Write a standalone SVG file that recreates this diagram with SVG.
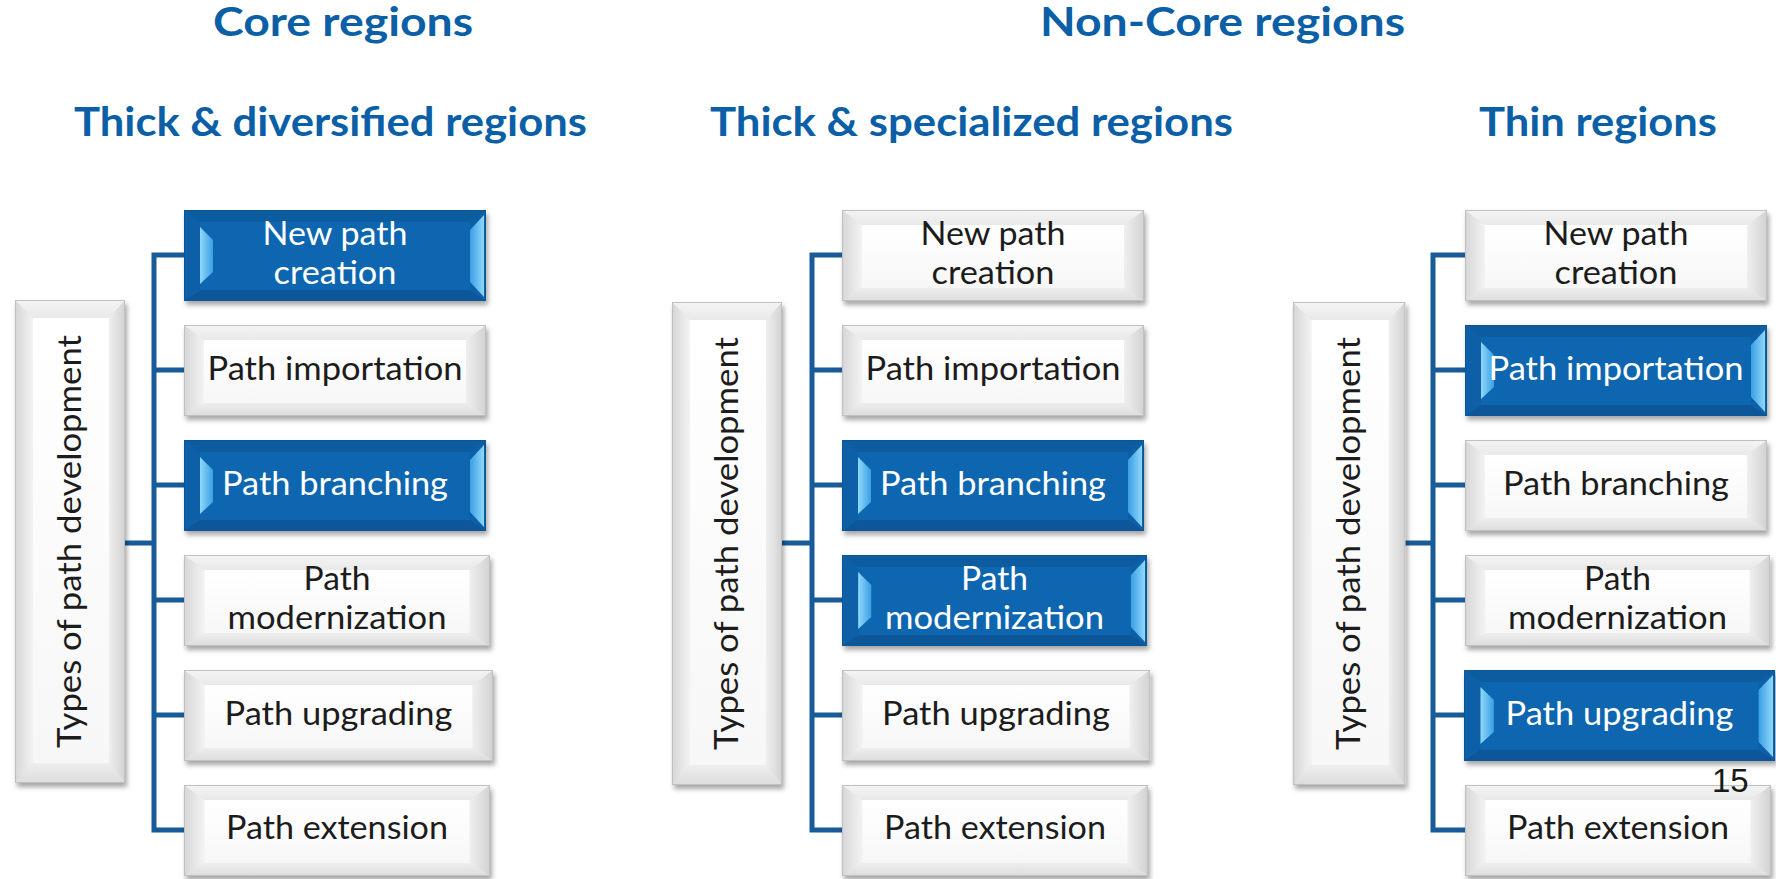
<svg xmlns="http://www.w3.org/2000/svg" xmlns:xlink="http://www.w3.org/1999/xlink" width="1776" height="879" viewBox="0 0 1776 879">
<defs>
<style>
.title{font-family:Lato,"Open Sans","Liberation Sans",sans-serif;font-weight:bold;font-size:40px;fill:#0b5fa6;text-anchor:middle}
.lbl{font-family:Lato,"Open Sans","Liberation Sans",sans-serif;font-size:32px;text-anchor:middle}
.dark{fill:#1c1c1c}
.light{fill:#ffffff}
.vt{font-family:Lato,"Open Sans","Liberation Sans",sans-serif;font-size:33px;fill:#1c1c1c;text-anchor:middle}
.conn{fill:none;stroke:#185b99;stroke-width:5;stroke-linejoin:miter;stroke-linecap:butt}
.num{font-family:"Liberation Sans",Arial,sans-serif;font-size:33px;fill:#1a1a1a}
</style>
<filter id="sh" x="-10%" y="-10%" width="125%" height="130%">
<feDropShadow dx="2" dy="4" stdDeviation="2.5" flood-color="#000" flood-opacity="0.35"/>
</filter>
<linearGradient id="gL" x1="0" y1="0" x2="1" y2="0"><stop offset="0" stop-color="#d6d6d6"/><stop offset="1" stop-color="#f3f3f3"/></linearGradient>
<linearGradient id="gR" x1="0" y1="0" x2="1" y2="0"><stop offset="0" stop-color="#efefef"/><stop offset="1" stop-color="#d2d2d2"/></linearGradient>
<linearGradient id="gT" x1="0" y1="0" x2="0" y2="1"><stop offset="0" stop-color="#f4f4f4"/><stop offset="1" stop-color="#e9e9e9"/></linearGradient>
<linearGradient id="gB" x1="0" y1="0" x2="0" y2="1"><stop offset="0" stop-color="#eeeeee"/><stop offset="1" stop-color="#dcdcdc"/></linearGradient>
<linearGradient id="gF" x1="0" y1="0" x2="0" y2="1"><stop offset="0" stop-color="#ffffff"/><stop offset="1" stop-color="#f7f7f7"/></linearGradient>
<linearGradient id="gCL" x1="0" y1="0" x2="1" y2="0"><stop offset="0" stop-color="#8fd8fb"/><stop offset="1" stop-color="#3b9fe3"/></linearGradient>
<linearGradient id="gCR" x1="0" y1="0" x2="1" y2="0"><stop offset="0" stop-color="#3b9fe3"/><stop offset="1" stop-color="#8fd8fb"/></linearGradient>
<g id="wbox">
<rect x="0" y="0" width="302" height="91" fill="#e4e4e4"/>
<polygon points="0,0 20,15 20,78 0,91" fill="url(#gL)"/>
<polygon points="302,0 282,15 282,78 302,91" fill="url(#gR)"/>
<polygon points="0,0 302,0 282,15 20,15" fill="url(#gT)"/>
<polygon points="0,91 302,91 282,78 20,78" fill="url(#gB)"/>
<rect x="20" y="15" width="262" height="63" fill="url(#gF)"/>
<rect x="0.5" y="0.5" width="301" height="90" fill="none" stroke="#c0c0c0" stroke-width="1"/>
</g>
<g id="bbox">
<rect x="0" y="0" width="302" height="91" fill="#0a60a7"/>
<polygon points="0,0 302,0 286,12 16,12" fill="#0c5c9f"/>
<polygon points="0,91 302,91 286,80 16,80" fill="#09579a"/>
<rect x="16" y="12" width="270" height="68" fill="#0766af"/>
<polygon points="16,17 29,30 29,62 16,74" fill="url(#gCL)"/>
<polygon points="300,5 286,20 286,72 300,87" fill="url(#gCR)"/>
<rect x="0.5" y="0.5" width="301" height="90" fill="none" stroke="#0b5794" stroke-width="1"/>
</g>
<g id="vbox">
<rect x="0" y="0" width="110" height="483" fill="#e4e4e4"/>
<polygon points="0,0 18,18 18,463 0,483" fill="url(#gL)"/>
<polygon points="110,0 94,18 94,463 110,483" fill="url(#gR)"/>
<polygon points="0,0 110,0 94,18 18,18" fill="url(#gT)"/>
<polygon points="0,483 110,483 94,463 18,463" fill="url(#gB)"/>
<rect x="18" y="18" width="76" height="445" fill="url(#gF)"/>
<rect x="0.5" y="0.5" width="109" height="482" fill="none" stroke="#c0c0c0" stroke-width="1"/>
</g>
</defs>
<rect x="0" y="0" width="1776" height="879" fill="#ffffff"/>

<g id="titles">
<text class="title" x="343" y="36" textLength="260" lengthAdjust="spacingAndGlyphs">Core regions</text>
<text class="title" x="1222.5" y="36" textLength="365" lengthAdjust="spacingAndGlyphs">Non-Core regions</text>
<text class="title" x="330.5" y="136" textLength="513" lengthAdjust="spacingAndGlyphs">Thick &amp; diversified regions</text>
<text class="title" x="971.5" y="136" textLength="523" lengthAdjust="spacingAndGlyphs">Thick &amp; specialized regions</text>
<text class="title" x="1598" y="136" textLength="238" lengthAdjust="spacingAndGlyphs">Thin regions</text>
</g>

<g id="connectors">
<path class="conn" d="M184 255 H154 V830 H184 M154 370 H184 M154 485 H184 M154 600 H184 M154 715 H184 M124 543 H154"/>
<path class="conn" d="M842 255 H812 V830 H842 M812 370 H842 M812 485 H842 M812 600 H842 M812 715 H842 M781 543 H812"/>
<path class="conn" d="M1465 255 H1433 V830 H1465 M1433 370 H1465 M1433 485 H1465 M1433 600 H1465 M1433 715 H1464 M1403 543 H1433"/>
</g>

<!-- Group 1: Thick & diversified -->
<g id="g1-root"><use xlink:href="#vbox" transform="translate(15,300)" filter="url(#sh)"/>
<text class="vt" transform="translate(69.5,541.5) rotate(-90)" x="0" y="11" textLength="413" lengthAdjust="spacingAndGlyphs">Types of path development</text></g>
<g id="g1-new"><use xlink:href="#bbox" transform="translate(184,210)" filter="url(#sh)"/>
<text class="lbl light" x="335" y="245" textLength="145" lengthAdjust="spacingAndGlyphs">New path</text>
<text class="lbl light" x="335" y="284" textLength="123" lengthAdjust="spacingAndGlyphs">creation</text></g>
<g id="g1-imp"><use xlink:href="#wbox" transform="translate(184,325)" filter="url(#sh)"/>
<text class="lbl dark" x="335" y="380" textLength="255" lengthAdjust="spacingAndGlyphs">Path importation</text></g>
<g id="g1-bra"><use xlink:href="#bbox" transform="translate(184,440)" filter="url(#sh)"/>
<text class="lbl light" x="335" y="495" textLength="226" lengthAdjust="spacingAndGlyphs">Path branching</text></g>
<g id="g1-mod"><use xlink:href="#wbox" transform="translate(184,555) scale(1.013,1)" filter="url(#sh)"/>
<text class="lbl dark" x="337" y="590" textLength="67" lengthAdjust="spacingAndGlyphs">Path</text>
<text class="lbl dark" x="337" y="629" textLength="219" lengthAdjust="spacingAndGlyphs">modernization</text></g>
<g id="g1-upg"><use xlink:href="#wbox" transform="translate(184,670) scale(1.023,1)" filter="url(#sh)"/>
<text class="lbl dark" x="338.5" y="725" textLength="228" lengthAdjust="spacingAndGlyphs">Path upgrading</text></g>
<g id="g1-ext"><use xlink:href="#wbox" transform="translate(184,785) scale(1.013,1)" filter="url(#sh)"/>
<text class="lbl dark" x="337" y="839" textLength="222" lengthAdjust="spacingAndGlyphs">Path extension</text></g>

<!-- Group 2: Thick & specialized -->
<g id="g2-root"><use xlink:href="#vbox" transform="translate(672,302)" filter="url(#sh)"/>
<text class="vt" transform="translate(727,543.5) rotate(-90)" x="0" y="11" textLength="413" lengthAdjust="spacingAndGlyphs">Types of path development</text></g>
<g id="g2-new"><use xlink:href="#wbox" transform="translate(842,210)" filter="url(#sh)"/>
<text class="lbl dark" x="993" y="245" textLength="145" lengthAdjust="spacingAndGlyphs">New path</text>
<text class="lbl dark" x="993" y="284" textLength="123" lengthAdjust="spacingAndGlyphs">creation</text></g>
<g id="g2-imp"><use xlink:href="#wbox" transform="translate(842,325)" filter="url(#sh)"/>
<text class="lbl dark" x="993" y="380" textLength="255" lengthAdjust="spacingAndGlyphs">Path importation</text></g>
<g id="g2-bra"><use xlink:href="#bbox" transform="translate(842,440)" filter="url(#sh)"/>
<text class="lbl light" x="993" y="495" textLength="226" lengthAdjust="spacingAndGlyphs">Path branching</text></g>
<g id="g2-mod"><use xlink:href="#bbox" transform="translate(842,555) scale(1.01,1)" filter="url(#sh)"/>
<text class="lbl light" x="994.5" y="590" textLength="67" lengthAdjust="spacingAndGlyphs">Path</text>
<text class="lbl light" x="994.5" y="629" textLength="219" lengthAdjust="spacingAndGlyphs">modernization</text></g>
<g id="g2-upg"><use xlink:href="#wbox" transform="translate(842,670) scale(1.02,1)" filter="url(#sh)"/>
<text class="lbl dark" x="996" y="725" textLength="228" lengthAdjust="spacingAndGlyphs">Path upgrading</text></g>
<g id="g2-ext"><use xlink:href="#wbox" transform="translate(842,785) scale(1.013,1)" filter="url(#sh)"/>
<text class="lbl dark" x="995" y="839" textLength="222" lengthAdjust="spacingAndGlyphs">Path extension</text></g>

<!-- Group 3: Thin regions -->
<g id="g3-root"><use xlink:href="#vbox" transform="translate(1293,302) scale(1.02,1)" filter="url(#sh)"/>
<text class="vt" transform="translate(1349,543.5) rotate(-90)" x="0" y="11" textLength="413" lengthAdjust="spacingAndGlyphs">Types of path development</text></g>
<g id="g3-new"><use xlink:href="#wbox" transform="translate(1465,210)" filter="url(#sh)"/>
<text class="lbl dark" x="1616" y="245" textLength="145" lengthAdjust="spacingAndGlyphs">New path</text>
<text class="lbl dark" x="1616" y="284" textLength="123" lengthAdjust="spacingAndGlyphs">creation</text></g>
<g id="g3-imp"><use xlink:href="#bbox" transform="translate(1465,325)" filter="url(#sh)"/>
<text class="lbl light" x="1616" y="380" textLength="255" lengthAdjust="spacingAndGlyphs">Path importation</text></g>
<g id="g3-bra"><use xlink:href="#wbox" transform="translate(1465,440)" filter="url(#sh)"/>
<text class="lbl dark" x="1616" y="495" textLength="226" lengthAdjust="spacingAndGlyphs">Path branching</text></g>
<g id="g3-mod"><use xlink:href="#wbox" transform="translate(1465,555) scale(1.01,1)" filter="url(#sh)"/>
<text class="lbl dark" x="1617.5" y="590" textLength="67" lengthAdjust="spacingAndGlyphs">Path</text>
<text class="lbl dark" x="1617.5" y="629" textLength="219" lengthAdjust="spacingAndGlyphs">modernization</text></g>
<g id="g3-upg"><use xlink:href="#bbox" transform="translate(1464,670) scale(1.03,1)" filter="url(#sh)"/>
<text class="lbl light" x="1619.5" y="725" textLength="228" lengthAdjust="spacingAndGlyphs">Path upgrading</text></g>
<g id="g3-ext"><use xlink:href="#wbox" transform="translate(1465,785) scale(1.013,1)" filter="url(#sh)"/>
<text class="lbl dark" x="1618" y="839" textLength="222" lengthAdjust="spacingAndGlyphs">Path extension</text></g>

<text class="num" x="1712" y="792">15</text>
</svg>
